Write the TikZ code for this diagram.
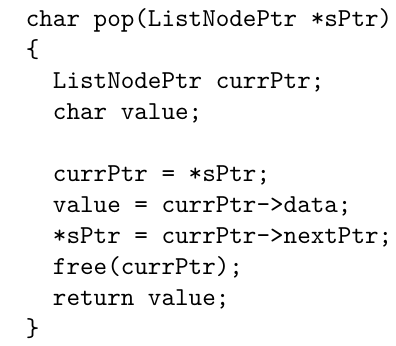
\documentclass[tikz,border=0pt]{standalone}
\usepackage{tikz}
\usetikzlibrary{positioning}

\begin{document}
\begin{tikzpicture}[
  code/.style={anchor=base west, inner sep=0pt, font=\ttfamily},
]
\useasboundingbox (0,0) rectangle (153.2pt,-133.5pt);

% ---- Function header ---------------------------------------------------------
\node[code] (head) at (9.8pt, -10.1pt) {char pop(ListNodePtr *sPtr)};
\node[code] (lbrace) at (9.8pt, -22.1pt) {\{};

% ---- Declarations ------------------------------------------------------------
\node[code] (decl1) at (20.3pt, -34.1pt) {ListNodePtr currPtr;};
\node[code] (decl2) at (20.3pt, -46.1pt) {char value;};

% ---- Body --------------------------------------------------------------------
\node[code] (asg1) at (20.3pt, -70.1pt) {currPtr = *sPtr;};
\node[code] (asg2) at (20.3pt, -82.1pt) {value = currPtr->data;};
\node[code] (asg3) at (20.3pt, -94.1pt) {*sPtr = currPtr->nextPtr;};
\node[code] (free) at (20.3pt, -106.1pt) {free(currPtr);};
\node[code] (ret) at (20.3pt, -118.1pt) {return value;};
\node[code] (rbrace) at (9.8pt, -130.1pt) {\}};

\end{tikzpicture}
\end{document}
